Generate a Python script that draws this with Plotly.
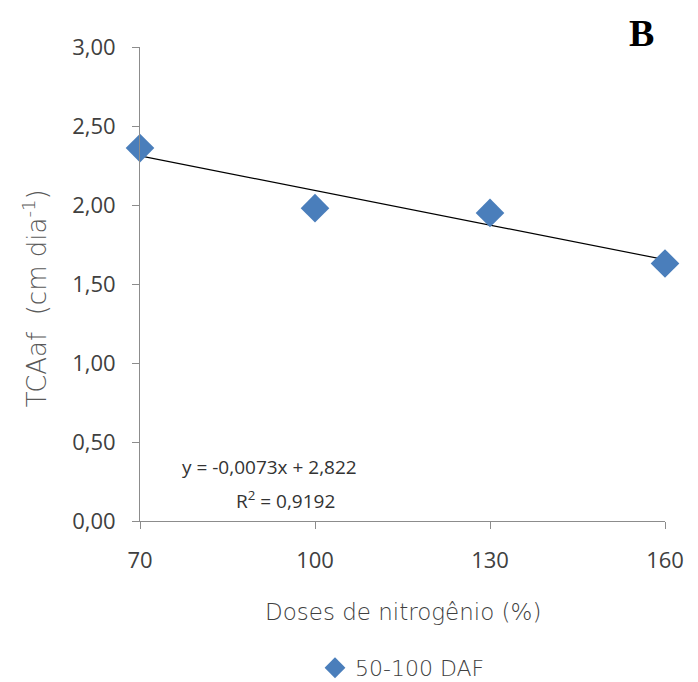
import plotly.graph_objects as go

doses = [70, 100, 130, 160]
tcaaf = [2.36, 1.98, 1.95, 1.63]
slope = -0.0073
intercept = 2.822
r2 = 0.9192
series_name = "50-100 DAF"

trend_x = [doses[0], doses[-1]]
trend_y = [slope * x + intercept for x in trend_x]

fig = go.Figure()
fig.add_trace(go.Scatter(x=trend_x, y=trend_y, mode="lines",
                         line=dict(color="black", width=1.2),
                         showlegend=False, hoverinfo="skip"))
fig.add_trace(go.Scatter(x=doses, y=tcaaf, mode="markers", name=series_name,
                         marker=dict(symbol="diamond", size=22, color="#4A7EBB",
                                     line=dict(color="#4A7EBB", width=0)),
                         cliponaxis=False))

font_tick = "Open Sans, Noto Sans, sans-serif"
font_title = "DejaVu Sans, sans-serif"
fig.update_layout(
    width=698, height=682,
    margin=dict(l=140, r=33, t=47, b=161, autoexpand=False),
    paper_bgcolor="white", plot_bgcolor="white",
    separators=",.",
    showlegend=True,
    legend=dict(orientation="h", x=0.5, xanchor="center", y=-0.31, yanchor="middle",
                font=dict(family=font_title, size=22, color="#404040", weight=200),
                itemwidth=30, traceorder="normal"),
    xaxis=dict(range=[70, 160], tickvals=doses, ticktext=[str(d) for d in doses],
               showgrid=False, zeroline=False, showline=True, linecolor="#8c8c8c",
               linewidth=1, ticks="outside", ticklen=7, tickcolor="#8c8c8c",
               ticklabelstandoff=13,
               tickfont=dict(family=font_tick, size=22, color="#404040")),
    yaxis=dict(range=[0, 3], dtick=0.5, tickformat=".2f",
               showgrid=False, zeroline=False, showline=True, linecolor="#8c8c8c",
               linewidth=1, ticks="outside", ticklen=7, tickcolor="#8c8c8c",
               ticklabelstandoff=12,
               tickfont=dict(family=font_tick, size=22, color="#404040")),
    annotations=[
        dict(text="TCAaf  (cm dia<sup>-1</sup>)", xref="paper", yref="paper",
             x=-0.2, y=0.47, xanchor="center", yanchor="middle", textangle=-90, showarrow=False,
             font=dict(family=font_title, size=26, color="#595959", weight=200)),
        dict(text="Doses de nitrogênio (%)", xref="paper", yref="paper",
             x=0.5, y=-0.192, xanchor="center", yanchor="middle", showarrow=False,
             font=dict(family=font_title, size=23, color="#404040", weight=200)),
        dict(text="y = -0,0073x + 2,822", xref="paper", yref="paper",
             x=0.247, y=0.114, xanchor="center", yanchor="middle", showarrow=False,
             font=dict(family=font_tick, size=19, color="#333333")),
        dict(text="R<sup>2</sup> = 0,9192", xref="paper", yref="paper",
             x=0.277, y=0.045, xanchor="center", yanchor="middle", showarrow=False,
             font=dict(family=font_tick, size=19, color="#333333")),
        dict(text="<b>B</b>", xref="paper", yref="paper",
             x=0.955, y=1.03, xanchor="center", yanchor="middle", showarrow=False,
             font=dict(family="Liberation Serif, Times New Roman, serif", size=38, color="black")),
    ],
)

fig.write_html("out.html")
